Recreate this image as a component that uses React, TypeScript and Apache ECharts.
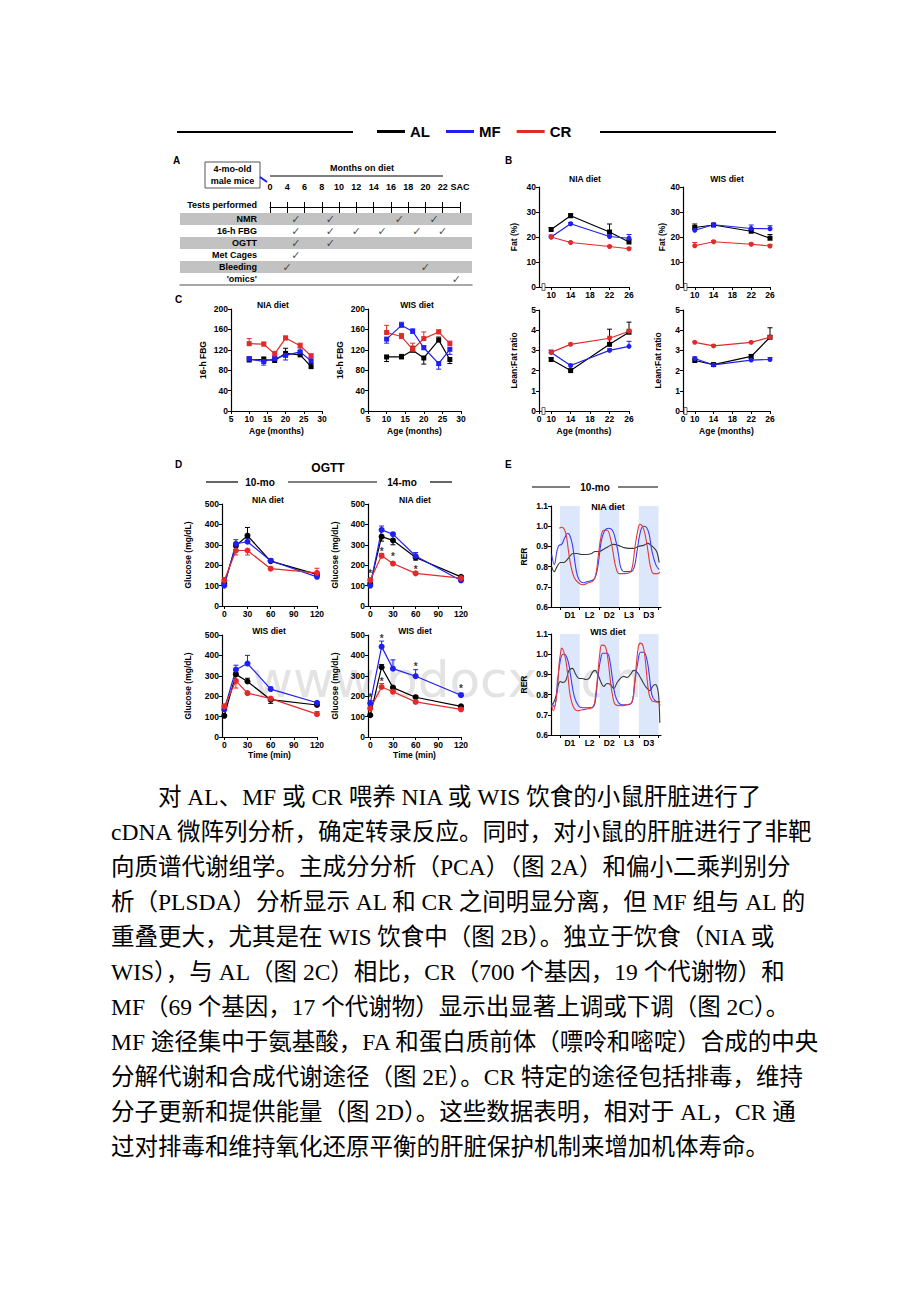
import { useEffect, useRef } from 'react';
import * as echarts from 'echarts';

const FONT = '"Liberation Sans", Arial, Helvetica, sans-serif';
const SERIF = '"Liberation Serif", "Noto Sans CJK SC", serif';
const C_AL = '#000000';
const C_MF = '#1f1ff2';
const C_CR = '#e12b2b';

// ---------- legend ----------
const groups = ['AL', 'MF', 'CR'];

// ---------- Panel A ----------
const monthLabels = ['0', '4', '6', '8', '10', '12', '14', '16', '18', '20', '22', 'SAC'];
const testRows = ['NMR', '16-h FBG', 'OGTT', 'Met Cages', 'Bleeding', "'omics'"];
const checkNMR = [1.5, 3.5, 7.5, 9.5];
const checkFBG = [1.5, 3.5, 5, 6.5, 8.5, 10];
const checkOGTT = [1.5, 3.5];
const checkMet = [1.5];
const checkBleed = [1, 9];
const checkOmics = [10.8];

// ---------- Panel B ----------
const ageB = [10, 14, 22, 26];
const fatNIA_AL = [23, 28.5, 22, 18];
const fatNIA_AL_err = [23.8, 29.3, 25.2, 19];
const fatNIA_MF = [20, 25.3, 20.2, 19.5];
const fatNIA_MF_err = [20.5, 25.8, 20.8, 21];
const fatNIA_CR = [20, 17.8, 16.2, 15.3];
const fatNIA_CR_err = [20.8, 18.2, 16.6, 15.7];
const fatWIS_AL = [23.8, 24.8, 22.3, 19.5];
const fatWIS_AL_err = [25.2, 25.3, 23.0, 21.0];
const fatWIS_MF = [22.7, 24.9, 23.4, 23.3];
const fatWIS_MF_err = [23.5, 25.4, 24.8, 24.5];
const fatWIS_CR = [16.5, 18.1, 17.1, 16.4];
const fatWIS_CR_err = [17.8, 18.6, 17.6, 17.0];
const lfNIA_AL = [2.55, 2.0, 3.3, 3.9];
const lfNIA_AL_err = [2.65, 2.05, 4.05, 4.4];
const lfNIA_MF = [2.9, 2.25, 3.0, 3.2];
const lfNIA_MF_err = [3.0, 2.32, 3.08, 3.45];
const lfNIA_CR = [2.9, 3.3, 3.6, 3.95];
const lfNIA_CR_err = [3.02, 3.36, 3.7, 4.05];
const lfWIS_AL = [2.5, 2.3, 2.7, 3.65];
const lfWIS_AL_err = [2.58, 2.35, 2.8, 4.12];
const lfWIS_MF = [2.6, 2.28, 2.52, 2.55];
const lfWIS_MF_err = [2.68, 2.33, 2.6, 2.65];
const lfWIS_CR = [3.4, 3.22, 3.4, 3.65];
const lfWIS_CR_err = [3.45, 3.28, 3.45, 3.72];

// ---------- Panel C ----------
const ageC = [10, 14, 17, 20, 24, 27];
const fbgNIA_AL = [100, 101, 99, 113, 110, 87];
const fbgNIA_AL_err = [106, 106, 104, 123, 118, 93];
const fbgNIA_MF = [102, 97, 103, 109, 116, 98];
const fbgNIA_MF_err = [106, 90, 108, 100, 124, 104];
const fbgNIA_CR = [132, 131, 112, 143, 128, 108];
const fbgNIA_CR_err = [142, 135, 117, 147, 133, 112];
const fbgWIS_AL = [106, 106, 119, 104, 139, 101];
const fbgWIS_AL_err = [97, 111, 127, 92, 145, 93];
const fbgWIS_MF = [141, 168, 156, 124, 93, 121];
const fbgWIS_MF_err = [133, 174, 161, 128, 82, 111];
const fbgWIS_CR = [154, 146, 121, 142, 155, 132];
const fbgWIS_CR_err = [168, 152, 133, 155, 159, 137];

// ---------- Panel D ----------
const timeD = [0, 15, 30, 60, 120];
const timeTicks = [0, 30, 60, 90, 120];
const g10NIA_AL = [110, 295, 345, 220, 155];
const g10NIA_AL_err = [118, 305, 385, 228, 162];
const g10NIA_MF = [100, 305, 315, 222, 143];
const g10NIA_MF_err = [105, 325, 330, 232, 150];
const g10NIA_CR = [125, 272, 272, 183, 162];
const g10NIA_CR_err = [140, 250, 250, 188, 185];
const g14NIA_AL = [108, 340, 322, 238, 143];
const g14NIA_AL_err = [115, 318, 300, 225, 148];
const g14NIA_MF = [100, 373, 352, 245, 125];
const g14NIA_MF_err = [108, 392, 358, 262, 130];
const g14NIA_CR = [127, 246, 208, 160, 137];
const g14NIA_CR_err = [133, 258, 215, 167, 142];
const g10WIS_AL = [104, 307, 272, 183, 157];
const g10WIS_AL_err = [110, 315, 288, 165, 163];
const g10WIS_MF = [135, 330, 360, 235, 168];
const g10WIS_MF_err = [130, 352, 400, 245, 174];
const g10WIS_CR = [150, 275, 215, 188, 112];
const g10WIS_CR_err = [160, 240, 222, 195, 125];
const g14WIS_AL = [107, 342, 242, 195, 150];
const g14WIS_AL_err = [112, 355, 247, 200, 155];
const g14WIS_MF = [165, 443, 335, 298, 205];
const g14WIS_MF_err = [178, 470, 378, 330, 215];
const g14WIS_CR = [140, 245, 222, 172, 135];
const g14WIS_CR_err = [146, 262, 228, 178, 140];
const sig14NIA = [[0, 160], [15, 268], [30, 243], [60, 180]];
const sig14WIS = [[0, 195], [15, 485], [15, 270], [60, 347], [120, 240]];

// ---------- Panel E ----------
const phaseTicks = [0, 12, 24, 36, 48, 60];
const phaseLabelPos = [6, 18, 30, 42, 54];
const phaseLabels = ['D1', 'L2', 'D2', 'L3', 'D3'];
const darkPhases = [[0, 12], [24, 36], [48, 60]];
const RER_MIN = 0.6;
const RER_MAX = 1.1;
const rerNIA_AL = [[-5.1, 0.8], [-3.5, 0.775], [-1.8, 0.8], [0.2, 0.82], [2.2, 0.82], [3.9, 0.83], [5.9, 0.85], [7.9, 0.865], [10.4, 0.865], [13.2, 0.86], [16.3, 0.86], [19.3, 0.865], [21.3, 0.875], [23.8, 0.875], [26.4, 0.885], [29.5, 0.9], [32.5, 0.91], [35.6, 0.905], [38.6, 0.895], [41.7, 0.89], [44.7, 0.89], [47.8, 0.9], [50.8, 0.905], [53.5, 0.915], [55.5, 0.905], [57.5, 0.89], [59.1, 0.87], [60.4, 0.82]];
const rerNIA_MF = [[-5.1, 0.86], [-3.5, 0.81], [-1.8, 0.88], [-0.6, 0.905], [1.0, 0.91], [3.0, 0.945], [4.7, 0.965], [5.9, 0.955], [7.5, 0.91], [9.1, 0.82], [10.4, 0.76], [12.0, 0.73], [14.0, 0.72], [16.3, 0.725], [20.3, 0.735], [22.0, 0.76], [23.4, 0.82], [25.0, 0.92], [27.0, 0.975], [29.5, 0.99], [31.9, 0.98], [33.9, 0.93], [35.6, 0.86], [37.2, 0.79], [39.6, 0.775], [43.3, 0.775], [45.3, 0.8], [47.0, 0.88], [48.6, 0.96], [50.6, 1.0], [52.6, 0.995], [54.3, 0.96], [55.9, 0.88], [58.3, 0.81], [60.4, 0.785]];
const rerNIA_CR = [[-0.4, 0.99], [1.0, 0.995], [2.6, 0.985], [3.9, 0.95], [5.1, 0.88], [6.7, 0.8], [8.7, 0.745], [11.2, 0.72], [13.6, 0.71], [17.3, 0.72], [20.3, 0.73], [22.0, 0.77], [23.4, 0.86], [25.0, 0.95], [26.6, 0.98], [28.7, 0.98], [30.7, 0.94], [32.3, 0.87], [33.9, 0.8], [36.0, 0.765], [39.6, 0.765], [42.5, 0.77], [44.1, 0.8], [45.7, 0.9], [47.4, 0.98], [48.6, 1.01], [50.2, 1.0], [51.8, 0.96], [53.5, 0.88], [55.1, 0.8], [57.1, 0.765], [59.6, 0.765], [60.8, 0.775]];
const rerWIS_AL = [[-5.1, 0.75], [-3.9, 0.76], [-2.2, 0.8], [-1.0, 0.85], [0.2, 0.865], [1.8, 0.86], [3.5, 0.87], [5.5, 0.92], [7.5, 0.93], [9.6, 0.9], [11.6, 0.88], [13.6, 0.88], [15.7, 0.875], [17.7, 0.88], [19.7, 0.91], [21.3, 0.92], [23.0, 0.9], [25.0, 0.86], [26.6, 0.84], [28.7, 0.855], [30.7, 0.85], [32.7, 0.83], [34.8, 0.86], [36.8, 0.88], [38.8, 0.89], [40.9, 0.885], [42.9, 0.9], [44.9, 0.92], [46.5, 0.915], [48.6, 0.89], [50.6, 0.86], [52.6, 0.835], [54.7, 0.82], [56.3, 0.84], [57.9, 0.85], [59.1, 0.84], [60.0, 0.8], [60.4, 0.75], [60.8, 0.66]];
const rerWIS_MF = [[-5.1, 0.76], [-3.5, 0.74], [-1.4, 0.87], [0.2, 0.97], [1.8, 1.0], [3.5, 0.995], [5.1, 0.96], [6.7, 0.88], [8.7, 0.79], [11.2, 0.745], [13.6, 0.735], [17.3, 0.735], [20.3, 0.74], [21.7, 0.78], [23.0, 0.88], [24.6, 0.97], [26.2, 1.005], [28.7, 1.005], [30.3, 0.97], [31.9, 0.88], [33.5, 0.8], [35.6, 0.76], [37.6, 0.75], [41.7, 0.75], [44.1, 0.77], [45.7, 0.87], [47.4, 0.96], [49.0, 1.01], [51.0, 1.01], [53.0, 0.97], [54.3, 0.9], [55.9, 0.8], [57.9, 0.77], [60.0, 0.765], [61.0, 0.765]];
const rerWIS_CR = [[-5.1, 0.75], [-4.1, 0.72], [-2.0, 0.8], [-0.6, 0.95], [0.6, 1.02], [1.0, 1.03], [3.0, 0.99], [4.7, 0.9], [6.1, 0.8], [8.1, 0.74], [10.8, 0.72], [13.6, 0.725], [17.3, 0.73], [20.3, 0.74], [21.7, 0.8], [23.0, 0.9], [24.2, 1.0], [25.4, 1.045], [27.4, 1.04], [29.1, 0.98], [30.5, 0.88], [31.9, 0.8], [33.9, 0.75], [37.6, 0.745], [40.7, 0.75], [43.7, 0.76], [45.3, 0.85], [46.5, 0.95], [47.8, 1.04], [49.0, 1.055], [50.6, 1.04], [51.8, 0.98], [53.0, 0.88], [54.3, 0.8], [55.9, 0.77], [57.9, 0.765], [60.0, 0.76], [61.0, 0.745]];

// ---------- paragraph ----------
const paragraph = [
  '对 AL、MF 或 CR 喂养 NIA 或 WIS 饮食的小鼠肝脏进行了',
  'cDNA 微阵列分析，确定转录反应。同时，对小鼠的肝脏进行了非靶',
  '向质谱代谢组学。主成分分析（PCA）（图 2A）和偏小二乘判别分',
  '析（PLSDA）分析显示 AL 和 CR 之间明显分离，但 MF 组与 AL 的',
  '重叠更大，尤其是在 WIS 饮食中（图 2B）。独立于饮食（NIA 或',
  'WIS），与 AL（图 2C）相比，CR（700 个基因，19 个代谢物）和',
  'MF（69 个基因，17 个代谢物）显示出显著上调或下调（图 2C）。',
  'MF 途径集中于氨基酸，FA 和蛋白质前体（嘌呤和嘧啶）合成的中央',
  '分解代谢和合成代谢途径（图 2E）。CR 特定的途径包括排毒，维持',
  '分子更新和提供能量（图 2D）。这些数据表明，相对于 AL，CR 通',
  '过对排毒和维持氧化还原平衡的肝脏保护机制来增加机体寿命。',
];

const labelStyle = { fontSize: 8.5, fontWeight: 'bold', color: '#000', fontFamily: FONT };

function buildOption() {
  const grids: any[] = [];
  const xAxes: any[] = [];
  const yAxes: any[] = [];
  const series: any[] = [];

  const axisBase = (o: any) => ({
    type: 'value',
    axisLine: { show: true, onZero: false, lineStyle: { color: '#000', width: 1.2 } },
    axisTick: { show: true, length: 3, lineStyle: { color: '#000', width: 1 }, ...(o.tick || {}) },
    axisLabel: { ...labelStyle, margin: 3, ...(o.label || {}) },
    splitLine: { show: false },
    nameTextStyle: { ...labelStyle },
    nameLocation: 'middle',
    ...(o.rest || {}),
  });

  const addPanel = (rect: any, xo: any, yo: any) => {
    grids.push(rect);
    const gi = grids.length - 1;
    xAxes.push({ ...axisBase(xo), gridIndex: gi });
    yAxes.push({ ...axisBase(yo), gridIndex: gi });
    return { xi: xAxes.length - 1, yi: yAxes.length - 1 };
  };

  const lineS = (ax: any, name: string, xs: number[], ys: number[], color: string, symbol: string, size: number) => ({
    type: 'line', name, xAxisIndex: ax.xi, yAxisIndex: ax.yi,
    data: xs.map((x, i) => [x, ys[i]]),
    symbol, symbolSize: size, lineStyle: { color, width: 1.2 }, itemStyle: { color }, z: 4,
  });
  const errS = (ax: any, name: string, xs: number[], ys: number[], ends: number[], color: string) => ({
    type: 'custom', name, xAxisIndex: ax.xi, yAxisIndex: ax.yi,
    data: xs.map((x, i) => [x, ys[i], ends[i]]),
    encode: { x: 0, y: [1, 2] }, z: 3,
    renderItem: (_p: any, api: any) => {
      const p0 = api.coord([api.value(0), api.value(1)]);
      const p1 = api.coord([api.value(0), api.value(2)]);
      return {
        type: 'group', children: [
          { type: 'line', shape: { x1: p0[0], y1: p0[1], x2: p1[0], y2: p1[1] }, style: { stroke: color, lineWidth: 1 } },
          { type: 'line', shape: { x1: p1[0] - 2.5, y1: p1[1], x2: p1[0] + 2.5, y2: p1[1] }, style: { stroke: color, lineWidth: 1 } },
        ],
      };
    },
  });
  const trio = (ax: any, xs: number[], sets: any[]) => {
    sets.forEach((s) => {
      series.push(errS(ax, s[0], xs, s[1], s[2], s[3]));
    });
    sets.forEach((s) => {
      series.push(lineS(ax, s[0], xs, s[1], s[3], s[4], s[5]));
    });
  };

  // ---------- Panel A: timeline (labels + upward ticks) ----------
  grids.push({ left: 270, top: 199, width: 190, height: 8 });
  const gA = grids.length - 1;
  xAxes.push({
    type: 'value', gridIndex: gA, position: 'top', min: 0, max: 11, interval: 1,
    axisLine: { show: true, lineStyle: { color: '#000', width: 1 } },
    axisTick: { show: true, length: 5, lineStyle: { color: '#000', width: 1 } },
    axisLabel: { ...labelStyle, fontSize: 9, margin: 8, formatter: (v: number) => monthLabels[v] ?? '' },
    splitLine: { show: false },
  });
  yAxes.push({ type: 'value', gridIndex: gA, show: false });
  // timeline: downward halves of the ticks
  grids.push({ left: 270, top: 199, width: 190, height: 8 });
  const gA2 = grids.length - 1;
  xAxes.push({
    type: 'value', gridIndex: gA2, position: 'top', min: 0, max: 11, interval: 1,
    axisLine: { show: false },
    axisTick: { show: true, inside: true, length: 6, lineStyle: { color: '#000', width: 1 } },
    axisLabel: { show: false }, splitLine: { show: false },
  });
  yAxes.push({ type: 'value', gridIndex: gA2, show: false });

  // rows of tests
  grids.push({ left: 180, top: 213, width: 292, height: 72 });
  const gR = grids.length - 1;
  xAxes.push({
    type: 'value', gridIndex: gR, min: -5.21, max: 11.7,
    axisLine: { show: true, lineStyle: { color: '#8a8a8a', width: 1.5 } },
    axisTick: { show: false }, axisLabel: { show: false }, splitLine: { show: false },
  });
  const xR = xAxes.length - 1;
  yAxes.push({
    type: 'category', gridIndex: gR, inverse: true, data: testRows,
    axisLine: { show: false }, axisTick: { show: false },
    axisLabel: { ...labelStyle, fontSize: 9, margin: -77, align: 'right' },
    splitArea: { show: true, areaStyle: { color: ['#c2c2c2', 'rgba(255,255,255,0)'] } },
    splitLine: { show: false },
  });
  const yR = yAxes.length - 1;
  const checkLists = [checkNMR, checkFBG, checkOGTT, checkMet, checkBleed, checkOmics];
  series.push({
    type: 'scatter', name: 'checks', xAxisIndex: xR, yAxisIndex: yR,
    data: checkLists.flatMap((list, r) => list.map((p) => [p, testRows[r]])),
    symbolSize: 1, itemStyle: { color: 'rgba(0,0,0,0)' },
    label: { show: true, position: 'inside', formatter: '\u2713', fontSize: 11, color: '#222', fontFamily: '"DejaVu Sans", sans-serif' },
  });

  // ---------- Panel B ----------
  const bX = (custom: number[], withZero: boolean) => ({
    rest: { min: 7.5, max: 26 },
    label: { customValues: custom, formatter: (v: number) => (withZero && v < 9 ? '0' : String(v)) },
    tick: { customValues: custom },
  });
  const bUpperX = [10, 14, 18, 22, 26];
  const bLowerX = [7.5, 10, 14, 18, 22, 26];
  const axBF1 = addPanel({ left: 539, top: 187, width: 90, height: 100 }, bX(bUpperX, false),
    { rest: { min: 0, max: 40, interval: 10, name: 'Fat (%)', nameGap: 21 } });
  trio(axBF1, ageB, [
    ['AL', fatNIA_AL, fatNIA_AL_err, C_AL, 'rect', 5],
    ['MF', fatNIA_MF, fatNIA_MF_err, C_MF, 'circle', 5],
    ['CR', fatNIA_CR, fatNIA_CR_err, C_CR, 'circle', 5],
  ]);
  const axBF2 = addPanel({ left: 683, top: 187, width: 87, height: 100 }, bX(bUpperX, false),
    { rest: { min: 0, max: 40, interval: 10, name: 'Fat (%)', nameGap: 17 } });
  trio(axBF2, ageB, [
    ['AL', fatWIS_AL, fatWIS_AL_err, C_AL, 'rect', 5],
    ['MF', fatWIS_MF, fatWIS_MF_err, C_MF, 'circle', 5],
    ['CR', fatWIS_CR, fatWIS_CR_err, C_CR, 'circle', 5],
  ]);
  const axBL1 = addPanel({ left: 539, top: 310, width: 90, height: 101 },
    { ...bX(bLowerX, true), rest: { min: 7.5, max: 26, name: 'Age (months)', nameGap: 15 } },
    { rest: { min: 0, max: 5, interval: 1, name: 'Lean:Fat ratio', nameGap: 21 } });
  trio(axBL1, ageB, [
    ['AL', lfNIA_AL, lfNIA_AL_err, C_AL, 'rect', 5],
    ['MF', lfNIA_MF, lfNIA_MF_err, C_MF, 'circle', 5],
    ['CR', lfNIA_CR, lfNIA_CR_err, C_CR, 'circle', 5],
  ]);
  const axBL2 = addPanel({ left: 683, top: 310, width: 87, height: 101 },
    { ...bX(bLowerX, true), rest: { min: 7.5, max: 26, name: 'Age (months)', nameGap: 15 } },
    { rest: { min: 0, max: 5, interval: 1, name: 'Lean:Fat ratio', nameGap: 21 } });
  trio(axBL2, ageB, [
    ['AL', lfWIS_AL, lfWIS_AL_err, C_AL, 'rect', 5],
    ['MF', lfWIS_MF, lfWIS_MF_err, C_MF, 'circle', 5],
    ['CR', lfWIS_CR, lfWIS_CR_err, C_CR, 'circle', 5],
  ]);

  // ---------- Panel C ----------
  const cX = { rest: { min: 5, max: 30, interval: 5, name: 'Age (months)', nameGap: 15 } };
  const cY = { rest: { min: 0, max: 200, interval: 40, name: '16-h FBG', nameGap: 24 } };
  const axC1 = addPanel({ left: 231, top: 309, width: 91, height: 102 }, cX, cY);
  trio(axC1, ageC, [
    ['AL', fbgNIA_AL, fbgNIA_AL_err, C_AL, 'rect', 5],
    ['MF', fbgNIA_MF, fbgNIA_MF_err, C_MF, 'rect', 5],
    ['CR', fbgNIA_CR, fbgNIA_CR_err, C_CR, 'rect', 5],
  ]);
  const axC2 = addPanel({ left: 368, top: 309, width: 93, height: 102 }, cX, cY);
  trio(axC2, ageC, [
    ['AL', fbgWIS_AL, fbgWIS_AL_err, C_AL, 'rect', 5],
    ['MF', fbgWIS_MF, fbgWIS_MF_err, C_MF, 'rect', 5],
    ['CR', fbgWIS_CR, fbgWIS_CR_err, C_CR, 'rect', 5],
  ]);

  // ---------- Panel D ----------
  const dX = (named: boolean) => ({
    rest: { min: -3, max: 120, ...(named ? { name: 'Time (min)', nameGap: 13 } : {}) },
    label: { customValues: timeTicks }, tick: { customValues: timeTicks },
  });
  const dY = (gap: number) => ({ rest: { min: 0, max: 500, interval: 100, name: 'Glucose (mg/dL)', nameGap: gap } });
  const sigS = (ax: any, data: number[][]) => ({
    type: 'scatter', name: 'sig', xAxisIndex: ax.xi, yAxisIndex: ax.yi, data,
    symbolSize: 1, itemStyle: { color: 'rgba(0,0,0,0)' }, z: 6,
    label: { show: true, position: 'inside', formatter: '*', fontSize: 10, fontWeight: 'bold', color: '#000', fontFamily: FONT },
  });
  const axD1 = addPanel({ left: 222, top: 504, width: 95, height: 102 }, dX(false), dY(30));
  trio(axD1, timeD, [
    ['AL', g10NIA_AL, g10NIA_AL_err, C_AL, 'circle', 6],
    ['MF', g10NIA_MF, g10NIA_MF_err, C_MF, 'circle', 6],
    ['CR', g10NIA_CR, g10NIA_CR_err, C_CR, 'circle', 6],
  ]);
  const axD2 = addPanel({ left: 368, top: 504, width: 93, height: 102 }, dX(false), dY(29));
  trio(axD2, timeD, [
    ['AL', g14NIA_AL, g14NIA_AL_err, C_AL, 'circle', 6],
    ['MF', g14NIA_MF, g14NIA_MF_err, C_MF, 'circle', 6],
    ['CR', g14NIA_CR, g14NIA_CR_err, C_CR, 'circle', 6],
  ]);
  series.push(sigS(axD2, sig14NIA));
  const axD3 = addPanel({ left: 222, top: 635, width: 95, height: 102 }, dX(true), dY(30));
  trio(axD3, timeD, [
    ['AL', g10WIS_AL, g10WIS_AL_err, C_AL, 'circle', 6],
    ['MF', g10WIS_MF, g10WIS_MF_err, C_MF, 'circle', 6],
    ['CR', g10WIS_CR, g10WIS_CR_err, C_CR, 'circle', 6],
  ]);
  const axD4 = addPanel({ left: 368, top: 635, width: 93, height: 102 }, dX(true), dY(29));
  trio(axD4, timeD, [
    ['AL', g14WIS_AL, g14WIS_AL_err, C_AL, 'circle', 6],
    ['MF', g14WIS_MF, g14WIS_MF_err, C_MF, 'circle', 6],
    ['CR', g14WIS_CR, g14WIS_CR_err, C_CR, 'circle', 6],
  ]);
  series.push(sigS(axD4, sig14WIS));

  // ---------- Panel E ----------
  const eX = {
    rest: { min: -5.5, max: 61.5 },
    label: { customValues: phaseLabelPos, formatter: (v: number) => phaseLabels[phaseLabelPos.indexOf(v)] ?? '' },
    tick: { customValues: phaseTicks },
  };
  const eY = {
    rest: { min: RER_MIN, max: RER_MAX, interval: 0.1, name: 'RER', nameGap: 23 },
    label: { formatter: (v: number) => v.toFixed(1) },
  };
  const bandS = (ax: any) => ({
    type: 'custom', name: 'dark', xAxisIndex: ax.xi, yAxisIndex: ax.yi, data: darkPhases,
    encode: { x: [0, 1] }, z: 1, silent: true,
    renderItem: (_p: any, api: any) => {
      const a = api.coord([api.value(0), RER_MAX]);
      const b = api.coord([api.value(1), RER_MIN]);
      return { type: 'rect', shape: { x: a[0], y: a[1], width: b[0] - a[0], height: b[1] - a[1] }, style: { fill: '#dde7fb' } };
    },
  });
  const rerS = (ax: any, name: string, data: number[][], color: string) => ({
    type: 'line', name, xAxisIndex: ax.xi, yAxisIndex: ax.yi, data, smooth: 0.4,
    showSymbol: false, symbol: 'none', lineStyle: { color, width: 1.1 }, itemStyle: { color }, z: 4,
  });
  const axE1 = addPanel({ left: 551, top: 506, width: 110, height: 101 }, eX, eY);
  series.push(bandS(axE1));
  series.push(rerS(axE1, 'AL', rerNIA_AL, '#3a3a3a'));
  series.push(rerS(axE1, 'MF', rerNIA_MF, '#3c3cf5'));
  series.push(rerS(axE1, 'CR', rerNIA_CR, '#e03a3a'));
  const axE2 = addPanel({ left: 551, top: 634, width: 110, height: 101 }, eX, eY);
  series.push(bandS(axE2));
  series.push(rerS(axE2, 'AL', rerWIS_AL, '#3a3a3a'));
  series.push(rerS(axE2, 'MF', rerWIS_MF, '#3c3cf5'));
  series.push(rerS(axE2, 'CR', rerWIS_CR, '#e03a3a'));

  // ---------- graphic ----------
  const T = (text: string, x: number, y: number, size: number, align = 'center', extra: any = {}) => ({
    type: 'text', x, y, z: 10,
    style: { text, fill: '#000', fontSize: size, fontWeight: 'bold', fontFamily: FONT, align, verticalAlign: 'middle', ...extra },
  });
  const L = (x1: number, y1: number, x2: number, y2: number, color = '#000', w = 1.2) => ({
    type: 'line', z: 10, shape: { x1, y1, x2, y2 }, style: { stroke: color, lineWidth: w },
  });
  const breakRect = (x: number, y: number) => ({
    type: 'rect', z: 12, shape: { x, y, width: 3, height: 7 }, style: { fill: '#fff', stroke: '#444', lineWidth: 0.8 },
  });

  const graphic: any[] = [
    // watermark
    { type: 'text', x: 252, y: 655, z: 0, style: { text: 'www.bdocx.com', fill: '#e3e3e3', fontSize: 50, fontFamily: '"DejaVu Sans", sans-serif', align: 'left', verticalAlign: 'alphabetic' } },
    // top rule lines
    L(177, 132, 353, 132, '#000', 2),
    L(600, 132, 776, 132, '#000', 2),
    // panel letters
    T('A', 173, 160, 10, 'left'),
    T('B', 505, 160, 10, 'left'),
    T('C', 175, 299, 10, 'left'),
    T('D', 175, 464, 10, 'left'),
    T('E', 505, 464, 10, 'left'),
    // panel A extras
    { type: 'rect', z: 10, shape: { x: 205, y: 162, width: 55, height: 26 }, style: { fill: '#fff', stroke: '#555', lineWidth: 1 } },
    T('4-mo-old', 232.5, 169, 9),
    T('male mice', 232.5, 181, 9),
    L(260, 177, 267, 182, '#1f1ff2', 2),
    T('Months on diet', 362, 168, 9),
    L(270, 176, 443, 176, '#000', 1.2),
    T('Tests performed', 257, 205, 9, 'right'),
    // panel titles
    T('NIA diet', 585, 179, 8.5), T('WIS diet', 727, 179, 8.5),
    T('NIA diet', 273, 305, 8.5), T('WIS diet', 417, 305, 8.5),
    T('NIA diet', 268, 500, 8.5), T('NIA diet', 415, 500, 8.5),
    T('WIS diet', 269, 631, 8.5), T('WIS diet', 415, 631, 8.5),
    T('NIA diet', 608, 507, 9), T('WIS diet', 608, 632, 9),
    // panel D header
    T('OGTT', 328, 468, 12),
    L(206, 482, 238, 482), T('10-mo', 260, 482, 10), L(288, 482, 377, 482), T('14-mo', 402, 482, 10), L(430, 482, 452, 482),
    // panel E header
    L(532, 487, 570, 487), T('10-mo', 595, 487, 10), L(618, 487, 658, 487),
    // axis break marks
    breakRect(542, 283.5), breakRect(684, 283.5), breakRect(542, 407.5), breakRect(684, 407.5),
  ];
  paragraph.forEach((line, i) => {
    graphic.push({
      type: 'text', x: i === 0 ? 158 : 111, y: 797 + i * 35, z: 10,
      style: { text: line, fill: '#000', fontSize: 23.5, fontFamily: SERIF, align: 'left', verticalAlign: 'middle' },
    });
  });

  return {
    animation: false,
    backgroundColor: '#ffffff',
    legend: {
      left: 372, top: 119, itemWidth: 28, itemHeight: 3, itemGap: 16, icon: 'rect', selectedMode: false,
      textStyle: { fontSize: 15, fontWeight: 'bold', color: '#000', fontFamily: FONT },
      data: [
        { name: groups[0], itemStyle: { color: C_AL } },
        { name: groups[1], itemStyle: { color: C_MF } },
        { name: groups[2], itemStyle: { color: C_CR } },
      ],
    },
    grid: grids,
    xAxis: xAxes,
    yAxis: yAxes,
    series,
    graphic,
  };
}

export default function App() {
  const ref = useRef<HTMLDivElement>(null);
  useEffect(() => {
    if (!ref.current) return;
    const chart = echarts.init(ref.current, null, { renderer: 'svg' });
    chart.setOption(buildOption() as any);
    return () => chart.dispose();
  }, []);
  return <div ref={ref} style={{ position: 'absolute', left: 0, top: 0, width: 920, height: 1302, background: '#fff' }} />;
}
